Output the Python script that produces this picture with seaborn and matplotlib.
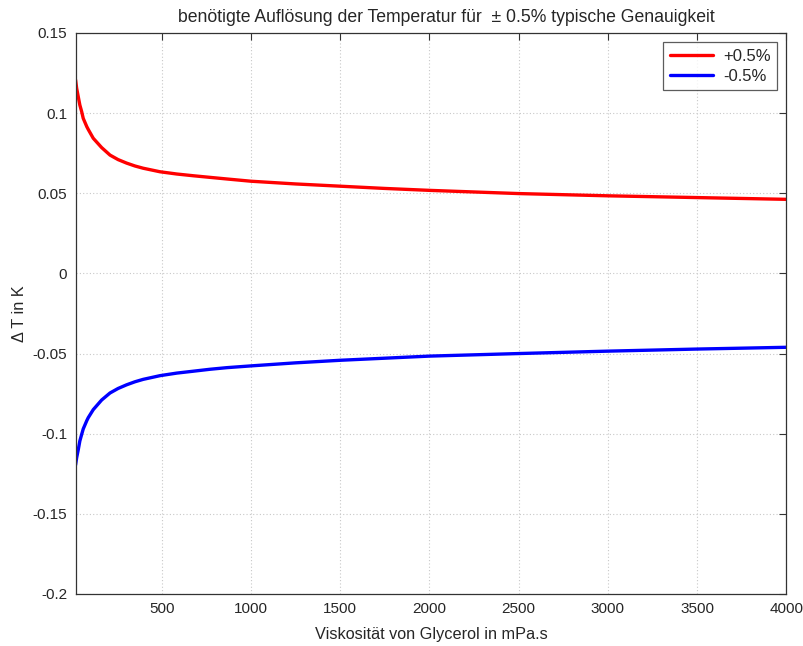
import matplotlib
matplotlib.use("Agg")
import matplotlib.pyplot as plt
import seaborn as sns
import pandas as pd

# Viscosity of glycerol (mPa.s) and required temperature resolution (K)
viscosity = [17, 23, 32, 41, 51, 60, 80, 88, 116, 163, 210, 255, 303, 350,
             396, 490, 584, 678, 771, 865, 1000, 1250, 1500, 1750, 2000,
             2500, 3000, 3500, 4000]
delta_plus = [0.1207, 0.1155, 0.1102, 0.1050, 0.1010, 0.0967, 0.0915, 0.0898,
              0.0843, 0.0785, 0.0738, 0.0710, 0.0688, 0.0670, 0.0656, 0.0634,
              0.0620, 0.0609, 0.0599, 0.0589, 0.0575, 0.0558, 0.0544, 0.0530,
              0.0518, 0.0498, 0.0484, 0.0473, 0.0462]
delta_minus = [-0.1195, -0.1150, -0.1100, -0.1045, -0.1005, -0.0970, -0.0918,
               -0.0900, -0.0850, -0.0790, -0.0746, -0.0718, -0.0695, -0.0676,
               -0.0661, -0.0638, -0.0622, -0.0610, -0.0598, -0.0588, -0.0577,
               -0.0558, -0.0542, -0.0529, -0.0516, -0.0500, -0.0485, -0.0472,
               -0.0461]
series_names = ["+0.5%", "-0.5%"]
series_colors = ["#ff0000", "#0000ff"]

x_ticks = [500, 1000, 1500, 2000, 2500, 3000, 3500, 4000]
y_ticks = [0.15, 0.1, 0.05, 0, -0.05, -0.1, -0.15, -0.2]
y_tick_labels = ["0.15", "0.1", "0.05", "0", "-0.05", "-0.1", "-0.15", "-0.2"]

df = pd.DataFrame({
    "viscosity": viscosity + viscosity,
    "delta": delta_plus + delta_minus,
    "series": [series_names[0]] * len(viscosity) + [series_names[1]] * len(viscosity),
})

sns.set_style("white")
plt.rcParams["font.family"] = ["Liberation Sans", "DejaVu Sans"]
plt.rcParams["font.size"] = 11

fig = plt.figure(figsize=(8.04, 6.46), dpi=100)
ax = fig.add_axes([0.094, 0.0805, 0.884, 0.8685])

sns.lineplot(data=df, x="viscosity", y="delta", hue="series",
             palette=dict(zip(series_names, series_colors)),
             linewidth=2.4, ax=ax, sort=False)

ax.set_xlim(17, 4000)
ax.set_ylim(-0.2, 0.15)
ax.set_xticks(x_ticks)
ax.set_xticklabels([str(t) for t in x_ticks])
ax.set_yticks(y_ticks)
ax.set_yticklabels(y_tick_labels)

ax.grid(True, linestyle=(0, (1, 2)), color="#c8c8c8", linewidth=0.8)
ax.tick_params(direction="in", length=5, width=0.8, color="#333333",
               top=True, right=True, labelsize=11, pad=6)
for s in ax.spines.values():
    s.set_color("#333333")
    s.set_linewidth(0.9)

ax.set_title("benötigte Auflösung der Temperatur für  ± 0.5% typische Genauigkeit",
             fontsize=12.7, pad=8, x=0.522)
ax.set_xlabel("Viskosität von Glycerol in mPa.s", fontsize=11.7, labelpad=8)
ax.set_ylabel("Δ T in K", fontsize=11.7, labelpad=4)

leg = ax.legend(loc="upper right", frameon=True, fancybox=False,
                edgecolor="#333333", fontsize=12, handlelength=2.6,
                borderaxespad=0.55, labelspacing=0.3, borderpad=0.4,
                handletextpad=0.6, title=None)
leg.get_frame().set_linewidth(0.9)

fig.savefig("out.png", dpi=100)
